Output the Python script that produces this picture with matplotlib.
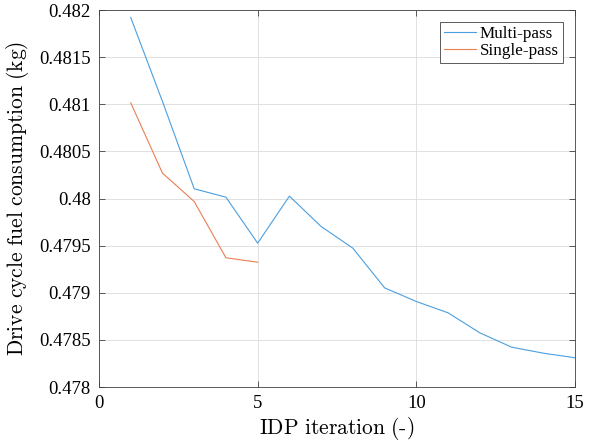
import numpy as np
import matplotlib.pyplot as plt

# fuel consumption per IDP iteration
iter_multi = [1, 2, 3, 4, 5, 6, 7, 8, 9, 10, 11, 12, 13, 14, 15]
fuel_multi = [0.48192, 0.48103, 0.480103, 0.480014, 0.479526, 0.480025,
              0.479703, 0.479473, 0.479052, 0.478907, 0.478787, 0.478575,
              0.478423, 0.478359, 0.478310]
iter_single = [1, 2, 3, 4, 5]
fuel_single = [0.481015, 0.480269, 0.479968, 0.479371, 0.479324]

xticks = [0, 5, 10, 15]
yticks = [0.478, 0.4785, 0.479, 0.4795, 0.48, 0.4805, 0.481, 0.4815, 0.482]
yticklabels = ['0.478', '0.4785', '0.479', '0.4795', '0.48', '0.4805',
               '0.481', '0.4815', '0.482']

plt.rcParams['font.family'] = 'Liberation Serif'
plt.rcParams['mathtext.fontset'] = 'cm'

fig = plt.figure(dpi=100, figsize=[6.02, 4.44])
ax1 = fig.add_axes([99/602, 1-387/444, 476/602, 377/444])

lplot1, = ax1.plot(iter_multi, fuel_multi, color='#4a9fe0', lw=0.8, label='Multi-pass')
lplot2, = ax1.plot(iter_single, fuel_single, color='#ea7f52', lw=0.8, label='Single-pass')

ax1.set_xlim(0, 15)
ax1.set_ylim(0.478, 0.482)
ax1.set_xticks(xticks)
ax1.set_yticks(yticks)
ax1.set_yticklabels(yticklabels)
ax1.tick_params(direction='in', top=True, right=True, labelsize=13.5,
                length=4, width=0.6, color='#404040', pad=6)
for s in ax1.spines.values():
    s.set_color('#404040')
    s.set_linewidth(0.6)

ax1.grid(color='#dcdcdc', linestyle='-', linewidth=0.6)
ax1.set_axisbelow(True)

ax1.set_xlabel(r'$\mathrm{IDP\ iteration\ (\text{-})}$', fontsize=15.5, labelpad=2)
ax1.set_ylabel(r'$\mathrm{Drive\ cycle\ fuel\ consumption\ (kg)}$', fontsize=15.5, labelpad=6)

leg = ax1.legend(handles=[lplot1, lplot2], fontsize=12.3, loc='upper right',
                 fancybox=False, framealpha=1, edgecolor='#404040',
                 borderpad=0.25, handlelength=1.9, handletextpad=0.2,
                 labelspacing=0.05, borderaxespad=0.7)
leg.get_frame().set_linewidth(0.6)

plt.savefig('out.png', dpi=100)
